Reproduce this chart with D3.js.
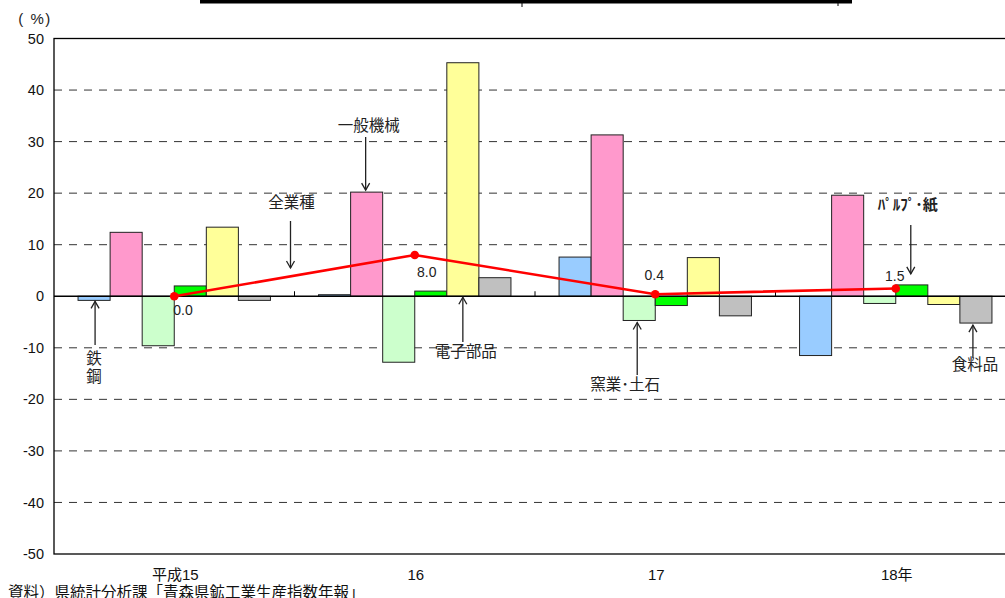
<!DOCTYPE html>
<html><head><meta charset="utf-8">
<script src="https://cdn.jsdelivr.net/npm/d3@7/dist/d3.min.js"></script>
<style>
html,body{margin:0;padding:0;background:#fff;overflow:hidden}
svg{display:block}
</style></head>
<body>
<svg id="chart" width="1005" height="598"></svg>
<script>
// ---- data ----
const categories = ["平成15", "16", "17", "18年"];
const seriesNames = ["鉄鋼", "一般機械", "窯業・土石", "パルプ・紙", "電子部品", "食料品"];
const steel       = [-0.8, 0.3, 7.6, -11.5];
const machinery   = [12.4, 20.2, 31.3, 19.6];
const ceramics    = [-9.6, -12.8, -4.7, -1.4];
const pulp        = [2.0, 1.0, -1.8, 2.2];
const electronics = [13.4, 45.3, 7.5, -1.6];
const food        = [-0.8, 3.6, -3.8, -5.2];
const allIndustry = [0.0, 8.0, 0.4, 1.5];
const allLabels   = ["0.0", "8.0", "0.4", "1.5"];
const yTicks      = [50, 40, 30, 20, 10, 0, -10, -20, -30, -40, -50];
const seriesColors = ["#99CCFF", "#FF99CC", "#CCFFCC", "#00FF00", "#FFFF99", "#C0C0C0"];
const seriesValues = [steel, machinery, ceramics, pulp, electronics, food];

const svg = d3.select("#chart");
const L = 54, R = 1016, T = 38.5, B = 554;
const sansNum = "'Liberation Sans', Arial, sans-serif";
const narrow = "'Liberation Sans Narrow', 'Liberation Sans', Arial, sans-serif";
const cjk = "'Noto Sans CJK JP', 'Noto Sans', sans-serif";

const x = d3.scaleBand().domain(categories).range([L, R]).paddingInner(0.2).paddingOuter(0.1);
const xs = d3.scaleBand().domain(seriesNames).range([0, x.bandwidth()]).padding(0);
const y = d3.scaleLinear().domain([-50, 50]).range([B, T]);

// title box remnant at top
svg.append("rect").attr("x", 200).attr("y", 0).attr("width", 652).attr("height", 3.5).attr("fill", "#000");
svg.append("line").attr("x1", 522).attr("x2", 522).attr("y1", 3).attr("y2", 7).attr("stroke", "#000").attr("stroke-width", 1);
svg.append("line").attr("x1", 838).attr("x2", 838).attr("y1", 3).attr("y2", 6).attr("stroke", "#000").attr("stroke-width", 1);

// gridlines
svg.append("g").selectAll("line").data(yTicks.filter(d => d !== 50 && d !== -50 && d !== 0)).join("line")
  .attr("x1", L).attr("x2", R).attr("y1", d => y(d)).attr("y2", d => y(d))
  .attr("stroke", "#333").attr("stroke-width", 1).attr("stroke-dasharray", "8,7");

// plot border
svg.append("rect").attr("x", L).attr("y", T).attr("width", R - L).attr("height", B - T)
  .attr("fill", "none").attr("stroke", "#000").attr("stroke-width", 1.3);

// y axis labels
const yAxis = d3.axisLeft(y).tickValues(yTicks).tickSize(0).tickPadding(10).tickFormat(d => String(d));
const ya = svg.append("g").attr("transform", `translate(${L},0)`).call(yAxis);
ya.select(".domain").remove();
ya.selectAll("text").attr("font-family", sansNum).attr("font-size", 14.5).attr("fill", "#111");

// (%)
svg.append("text").attr("x", 35).attr("y", 24).attr("text-anchor", "middle")
  .attr("font-family", narrow).attr("font-size", 15).attr("letter-spacing", 1.5).attr("fill", "#222").text("( %)");

// bars
const bars = svg.append("g");
categories.forEach((c, ci) => {
  seriesNames.forEach((s, si) => {
    const v = seriesValues[si][ci];
    bars.append("rect")
      .attr("x", x(c) + xs(s))
      .attr("width", xs.bandwidth())
      .attr("y", y(Math.max(0, v)))
      .attr("height", Math.abs(y(v) - y(0)))
      .attr("fill", seriesColors[si])
      .attr("stroke", "#222").attr("stroke-width", 1);
  });
});

// zero line (category axis)
svg.append("line").attr("x1", L).attr("x2", R).attr("y1", y(0)).attr("y2", y(0))
  .attr("stroke", "#000").attr("stroke-width", 1.3);
// category boundary ticks
const step = x.step();
for (let k = 1; k < categories.length; k++) {
  const tx = L + k * step;
  svg.append("line").attr("x1", tx).attr("x2", tx).attr("y1", y(0)).attr("y2", y(0) - 5)
    .attr("stroke", "#000").attr("stroke-width", 1);
}

// category labels
svg.append("g").selectAll("text").data(categories).join("text")
  .attr("x", d => x(d) + x.bandwidth() / 2 + 1).attr("y", 579.5).attr("text-anchor", "middle")
  .attr("font-family", narrow + ", " + cjk).attr("font-size", 15).attr("fill", "#111")
  .text(d => d);

// all-industry line
const cx = c => x(c) + x.bandwidth() / 2;
const lineGen = d3.line().x((d, i) => cx(categories[i])).y(d => y(d));
svg.append("path").datum(allIndustry).attr("d", lineGen)
  .attr("fill", "none").attr("stroke", "#FF0000").attr("stroke-width", 2.6);
svg.append("g").selectAll("circle").data(allIndustry).join("circle")
  .attr("cx", (d, i) => cx(categories[i])).attr("cy", d => y(d)).attr("r", 4.3).attr("fill", "#FF0000");

// data labels: [dx, dy, anchor]
const lblPos = [[-1, 14, "start"], [12, 17, "middle"], [-1, -19, "middle"], [-1, -13, "middle"]];
allIndustry.forEach((v, i) => {
  const p = lblPos[i];
  svg.append("text").attr("x", cx(categories[i]) + p[0])
    .attr("y", y(v) + p[1]).attr("text-anchor", p[2]).attr("dominant-baseline", "central")
    .attr("font-family", sansNum).attr("font-size", 14).attr("fill", "#222").text(allLabels[i]);
});

// annotations
function arrow(xp, y1, y2) { // from y1 (tail) to y2 (tip)
  const g = svg.append("g").attr("stroke", "#222").attr("stroke-width", 1.3).attr("fill", "none");
  g.append("line").attr("x1", xp).attr("x2", xp).attr("y1", y1).attr("y2", y2);
  const dir = y2 > y1 ? -1 : 1;
  g.append("path").attr("d", `M${xp - 4},${y2 + dir * 7} L${xp},${y2} L${xp + 4},${y2 + dir * 7}`);
}
function label(t, xp, yp) {
  svg.append("text").attr("x", xp).attr("y", yp).attr("text-anchor", "middle").attr("dominant-baseline", "central")
    .attr("font-family", cjk).attr("font-size", 15.5).attr("fill", "#222").text(t);
}
const barC = (ci, si) => x(categories[ci]) + xs(seriesNames[si]) + xs.bandwidth() / 2;

// 鉄鋼
arrow(barC(0, 0) + 1, 345, y(steel[0]) + 1);
label("鉄", barC(0, 0), 357);
label("鋼", barC(0, 0), 375);
// 一般機械
arrow(barC(1, 1) - 1, 137, y(machinery[1]) - 2);
label("一般機械", barC(1, 1) + 2, 124);
// 全業種
arrow(L + step - 4, 221, 268);
label("全業種", L + step - 3, 201);
// 電子部品
arrow(barC(1, 4), 342, y(0) + 1);
label("電子部品", barC(1, 4) + 3, 350);
// 窯業・土石
arrow(barC(2, 2) - 2, 375, y(ceramics[2]) + 2);
label("窯業･土石", barC(2, 2) - 14, 383);
// パルプ・紙
arrow(barC(3, 3) - 1, 225, y(pulp[3]) - 11);
svg.append("text").attr("x", barC(3, 3) - 4).attr("y", 203).attr("text-anchor", "middle").attr("dominant-baseline", "central")
  .attr("font-family", cjk).attr("font-size", 15).attr("font-weight", "bold").attr("fill", "#222").text("ﾊﾟﾙﾌﾟ･紙");
// 食料品
arrow(barC(3, 5) - 3, 358, y(food[3]) + 2);
label("食料品", barC(3, 5) - 1, 363);

// source
svg.append("text").attr("x", 8).attr("y", 598).attr("font-family", cjk).attr("font-size", 15.5)
  .attr("fill", "#111").text("資料）県統計分析課「青森県鉱工業生産指数年報」");
</script>
</body></html>
